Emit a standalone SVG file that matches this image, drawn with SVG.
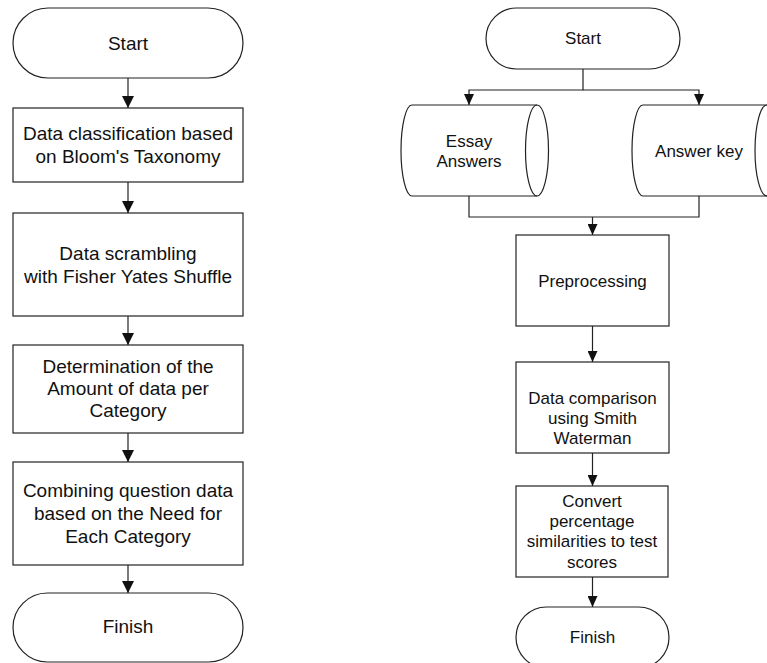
<svg xmlns="http://www.w3.org/2000/svg" width="767" height="663" viewBox="0 0 767 663">
<style>
.s{fill:#fff;stroke:#222;stroke-width:1.2}
.c{fill:none;stroke:#222;stroke-width:1.2}
.t{font-family:"Liberation Sans",Arial,sans-serif;fill:#111;text-anchor:middle}
.l{font-size:19px}
.r{font-size:17px}
</style>
<defs>
<marker id="aL" markerUnits="userSpaceOnUse" markerWidth="12" markerHeight="12" refX="12" refY="6" orient="auto">
<path d="M0,0 L12,6 L0,12 Z" fill="#111"/>
</marker>
<marker id="aR" markerUnits="userSpaceOnUse" markerWidth="11" markerHeight="10" refX="11" refY="5" orient="auto">
<path d="M0,0 L11,5 L0,10 Z" fill="#111"/>
</marker>
</defs>
<rect width="767" height="663" fill="#fff"/>
<g id="connectors">
<path class="c" d="M128,78 V108" marker-end="url(#aL)"/>
<path class="c" d="M128,182 V213" marker-end="url(#aL)"/>
<path class="c" d="M128,316 V345" marker-end="url(#aL)"/>
<path class="c" d="M128,433 V462" marker-end="url(#aL)"/>
<path class="c" d="M128,565 V593" marker-end="url(#aL)"/>
<path class="c" d="M583,69 V90 H469 V105" marker-end="url(#aR)"/>
<path class="c" d="M583,90 H699 V105" marker-end="url(#aR)"/>
<path class="c" d="M469,196 V217 H699 V196"/>
<path class="c" d="M592.5,217 V235" marker-end="url(#aR)"/>
<path class="c" d="M592.5,326 V362" marker-end="url(#aR)"/>
<path class="c" d="M592.5,453 V486" marker-end="url(#aR)"/>
<path class="c" d="M592.5,577 V607" marker-end="url(#aR)"/>
</g>
<g id="l-start">
<rect class="s" x="13" y="8" width="230" height="70" rx="35"/>
<text class="t l" x="128" y="50">Start</text>
</g>
<g id="l-classify">
<rect class="s" x="13" y="108" width="230" height="74"/>
<text class="t l" x="128" y="140">Data classification based</text>
<text class="t l" x="128" y="163">on Bloom's Taxonomy</text>
</g>
<g id="l-scramble">
<rect class="s" x="13" y="213" width="230" height="103"/>
<text class="t l" x="128" y="260">Data scrambling</text>
<text class="t l" x="128" y="282.5">with Fisher Yates Shuffle</text>
</g>
<g id="l-amount">
<rect class="s" x="13" y="345" width="230" height="88"/>
<text class="t l" x="128" y="373">Determination of the</text>
<text class="t l" x="128" y="395">Amount of data per</text>
<text class="t l" x="128" y="417">Category</text>
</g>
<g id="l-combine">
<rect class="s" x="13" y="462" width="230" height="103"/>
<text class="t l" x="128" y="497">Combining question data</text>
<text class="t l" x="128" y="520">based on the Need for</text>
<text class="t l" x="128" y="542.5">Each Category</text>
</g>
<g id="l-finish">
<rect class="s" x="13" y="593" width="230" height="69" rx="34.5"/>
<text class="t l" x="128" y="633">Finish</text>
</g>
<g id="r-start">
<rect class="s" x="486" y="8" width="194" height="61" rx="30.5"/>
<text class="t r" x="583" y="44">Start</text>
</g>
<g id="r-essay">
<path class="s" d="M412,105 H537 A11.5,45.5 0 0 1 537,196 H412 A11,45.5 0 0 1 412,105 Z"/>
<path class="c" d="M537,105 A11.5,45.5 0 0 0 537,196"/>
<text class="t r" x="469" y="146.5">Essay</text>
<text class="t r" x="469" y="166.5">Answers</text>
</g>
<g id="r-key">
<path class="s" d="M643,105 H767 A12,45.5 0 0 1 767,196 H643 A11,45.5 0 0 1 643,105 Z"/>
<path class="c" d="M767,105 A12,45.5 0 0 0 767,196"/>
<text class="t r" x="699" y="156.5">Answer key</text>
</g>
<g id="r-pre">
<rect class="s" x="516" y="235" width="153" height="91"/>
<text class="t r" x="592.5" y="286.5">Preprocessing</text>
</g>
<g id="r-compare">
<rect class="s" x="516" y="362" width="153" height="91"/>
<text class="t r" x="592.5" y="404">Data comparison</text>
<text class="t r" x="592.5" y="424">using Smith</text>
<text class="t r" x="592.5" y="444">Waterman</text>
</g>
<g id="r-convert">
<rect class="s" x="516" y="486" width="152" height="91"/>
<text class="t r" x="592" y="506.5">Convert</text>
<text class="t r" x="592" y="526.5">percentage</text>
<text class="t r" x="592" y="547">similarities to test</text>
<text class="t r" x="592" y="567.5">scores</text>
</g>
<g id="r-finish">
<rect class="s" x="516" y="607" width="153" height="61" rx="30.5"/>
<text class="t r" x="592.5" y="643">Finish</text>
</g>
</svg>
